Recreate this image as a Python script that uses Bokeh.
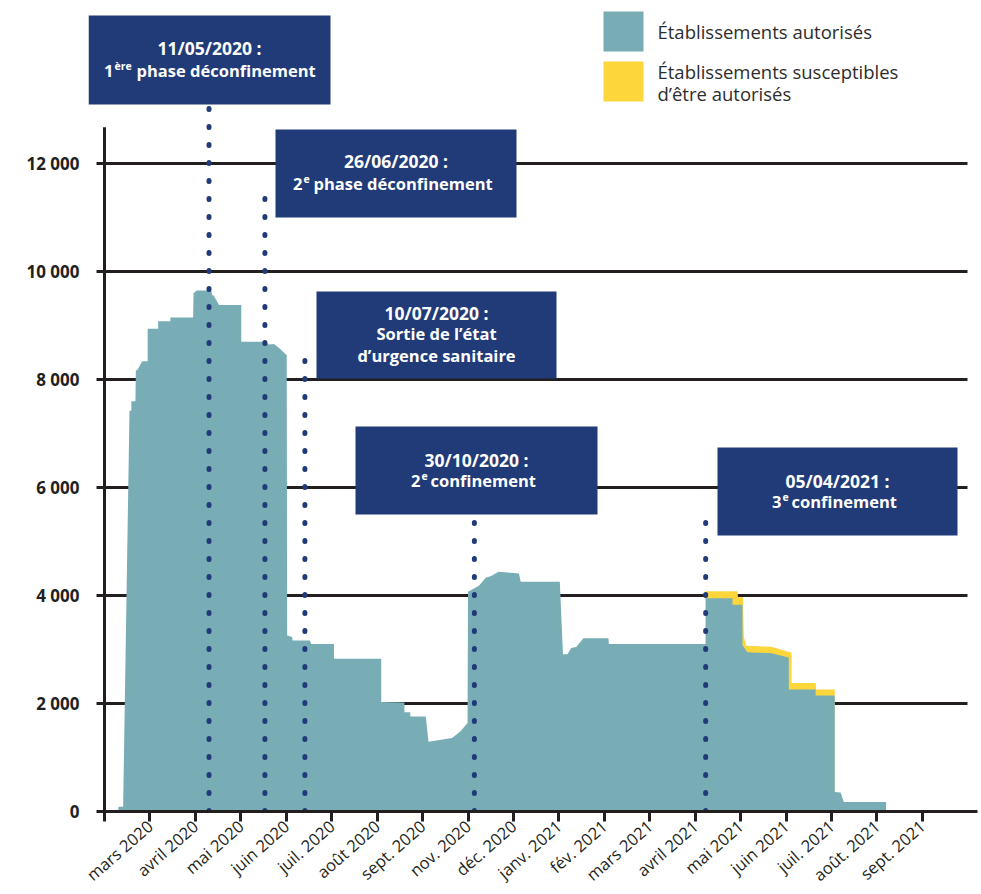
from bokeh.plotting import figure
from bokeh.models import Range1d, FixedTicker, BoxAnnotation, Label
from bokeh.embed import file_html
from bokeh.resources import INLINE

# ---------------- data ----------------
# x axis: month positions (0 = first tick, 1 = "mars 2020", ...)
month_labels = ["mars 2020", "avril 2020", "mai 2020", "juin 2020", "juil. 2020",
                "août 2020", "sept. 2020", "nov. 2020", "déc. 2020", "janv. 2021",
                "fév. 2021", "mars 2021", "avril 2021", "mai 2021", "juin 2021",
                "juil. 2021", "août. 2021", "sept. 2021"]
y_ticks = [0, 2000, 4000, 6000, 8000, 10000, 12000]

# Établissements autorisés (step-like area)
auth_x = [0.30, 0.31, 0.41, 0.55, 0.59, 0.59, 0.68, 0.69, 0.72, 0.83, 0.95, 0.95,
          1.18, 1.18, 1.45, 1.45, 1.95, 1.96, 2.03, 2.35, 2.37, 2.40, 2.52, 3.01,
          3.01, 3.55, 3.62, 3.73, 3.85, 4.01, 4.02, 4.13, 4.14, 4.52, 4.55, 5.05,
          5.05, 6.09, 6.09, 6.60, 6.60, 6.73, 6.73, 7.07, 7.13, 7.65, 7.83, 7.99,
          8.00, 8.24, 8.39, 8.51, 8.67, 9.12, 9.16, 10.02, 10.09, 10.19, 10.27,
          10.38, 10.54, 11.09, 11.10, 13.23, 13.23, 13.82, 13.82, 14.04, 14.04,
          14.15, 14.68, 15.06, 15.06, 15.65, 15.65, 16.07, 16.07, 16.20, 16.27,
          17.20, 17.20]
auth_y = [0, 90, 90, 7420, 7420, 7600, 7600, 8170, 8170, 8340, 8340, 8940,
          8940, 9080, 9080, 9150, 9150, 9600, 9650, 9650, 9560, 9560, 9380, 9380,
          8700, 8700, 8650, 8660, 8580, 8450, 3260, 3230, 3165, 3165, 3100, 3100,
          2830, 2830, 2030, 2020, 1840, 1840, 1760, 1760, 1290, 1360, 1480, 1640,
          4070, 4180, 4330, 4360, 4440, 4410, 4255, 4255, 2910, 2910, 3030,
          3045, 3210, 3210, 3100, 3100, 3950, 3950, 3830, 3830, 3080,
          2950, 2930, 2850, 2260, 2260, 2150, 2150, 360, 350, 175,
          175, 0]

# Autorisés + susceptibles d'être autorisés (total, stacked)
total_x = [13.23, 13.23, 13.93, 13.94, 14.05, 14.07, 14.12, 14.68, 15.12, 15.12,
           15.65, 15.66, 16.07, 16.07]
total_y = [0, 4080, 4080, 3970, 3970, 3240, 3070, 3050, 2940, 2380,
           2380, 2260, 2260, 0]

# events
event_x = [2.30, 3.53, 4.41, 8.14, 13.23]
event_dates = ["11/05/2020 :", "26/06/2020 :", "10/07/2020 :", "30/10/2020 :", "05/04/2021 :"]

# ---------------- style ----------------
TEAL = "#79adb6"
YELLOW = "#fdd63c"
NAVY = "#213b78"
INK = "#231f20"
FONT = "Open Sans"

X0, PXM = 104, 45.44          # pixel of month 0, pixels per month
Y0, UPP = 811, 18.52          # pixel of value 0, units per pixel


def X(px):
    return (px - X0) / PXM


def Y(py):
    return (Y0 - py) * UPP


p = figure(frame_width=889, frame_height=811, output_backend="svg", toolbar_location=None,
           x_range=Range1d(X(88), X(977)), y_range=Range1d(0, Y(0)),
           min_border_left=88, min_border_right=4, min_border_top=0,
           min_border_bottom=83)
p.outline_line_color = None
p.background_fill_color = "white"
p.border_fill_color = "white"

# grid
p.xgrid.visible = False
p.ygrid.ticker = FixedTicker(ticks=y_ticks[1:])
p.ygrid.grid_line_color = INK
p.ygrid.grid_line_width = 3
p.ygrid.cross_bounds = (X(96), X(967))

# x axis
p.xaxis.ticker = FixedTicker(ticks=list(range(len(month_labels) + 1)))
ov = {0: ""}
for i, lab in enumerate(month_labels):
    ov[i + 1] = lab
p.xaxis.major_label_overrides = ov
p.xaxis.bounds = (X(96), X(977))
p.xaxis.major_label_orientation = 0.72
p.xaxis.axis_line_color = INK
p.xaxis.axis_line_width = 3
p.xaxis.major_tick_line_color = INK
p.xaxis.major_tick_line_width = 3
p.xaxis.major_tick_out = 10
p.xaxis.major_tick_in = 0
p.xaxis.minor_tick_line_color = None
p.xaxis.major_label_text_font = FONT
p.xaxis.major_label_text_font_size = "16.5px"
p.xaxis.major_label_text_color = INK
p.xaxis.major_label_standoff = 2

# y axis: labels from Bokeh's axis, axis line drawn on the month-0 position
p.yaxis.ticker = FixedTicker(ticks=y_ticks)
p.yaxis.major_label_overrides = {v: f"{v:,}".replace(",", " ") for v in y_ticks}
p.yaxis.axis_line_color = None
p.yaxis.major_tick_line_color = None
p.yaxis.major_tick_out = 0
p.yaxis.major_tick_in = 0
p.yaxis.minor_tick_line_color = None
p.yaxis.major_label_text_font = FONT
p.yaxis.major_label_text_font_size = "17px"
p.yaxis.major_label_text_font_style = "bold"
p.yaxis.major_label_text_color = INK
p.yaxis.major_label_standoff = 9

p.segment(x0=[0], y0=[0], x1=[0], y1=[12670], line_color=INK, line_width=3)

# areas
p.varea(x=total_x, y1=0, y2=total_y, fill_color=YELLOW, fill_alpha=1)
p.varea(x=auth_x, y1=0, y2=auth_y, fill_color=TEAL, fill_alpha=1)

# event dotted lines
line_tops = [Y(105), Y(183), Y(358), Y(515), Y(520)]
p.segment(x0=event_x, y0=[0] * len(event_x), x1=event_x, y1=line_tops,
          line_color=NAVY, line_width=5, line_dash="1 17", line_cap="round")

# event boxes: (left, right, top, bottom) in reference pixels
boxes = [(88, 330, 15, 104), (275, 516, 129, 217), (316, 556, 291, 378),
         (355, 597, 426, 514), (717, 957, 447, 535)]
for (l, r, t, b) in boxes:
    p.add_layout(BoxAnnotation(left=X(l), right=X(r), top=Y(t), bottom=Y(b),
                               fill_color=NAVY, fill_alpha=1, line_color=None,
                               level="overlay"))


def txt(px, py, s, size="16.5px", align="center", color="white", style="bold"):
    p.add_layout(Label(x=X(px), y=Y(py), text=s, text_align=align,
                       text_baseline="middle", text_color=color, text_font=FONT,
                       text_font_size=size, text_font_style=style, level="overlay"))


# first lines (dates)
first_line_y = [47, 160, 312, 459, 480]
for (l, r, t, b), d, yy in zip(boxes, event_dates, first_line_y):
    txt((l + r) / 2, yy, d, size="17.5px")

# second lines with superscripts: (num, num right px, sup, sup left px, rest, rest left px, y px)
seconds = [("1", 113, "ère", 114, "phase déconfinement", 136, 70),
           ("2", 302, "e", 303, "phase déconfinement", 313, 183),
           ("2", 420, "e", 421, "confinement", 430, 480),
           ("3", 781, "e", 782, "confinement", 791, 501)]
for num, nr, sup, sl, rest, rl, yy in seconds:
    txt(nr, yy, num, align="right")
    txt(sl, yy - 5, sup, size="10.5px", align="left")
    txt(rl, yy, rest, align="left")

# third box extra lines
txt(436, 333, "Sortie de l’état")
txt(436, 355, "d’urgence sanitaire")

# legend
p.add_layout(BoxAnnotation(left=X(603), right=X(643), top=Y(11), bottom=Y(51),
                           fill_color=TEAL, fill_alpha=1, line_color=None, level="overlay"))
p.add_layout(BoxAnnotation(left=X(603), right=X(643), top=Y(61), bottom=Y(101),
                           fill_color=YELLOW, fill_alpha=1, line_color=None, level="overlay"))
LEG = dict(size="18.5px", align="left", color="#2d2d2d", style="normal")
txt(657, 31, "Établissements autorisés", **LEG)
txt(657, 71, "Établissements susceptibles", **LEG)
txt(657, 93, "d’être autorisés", **LEG)

open("out.html", "w").write(file_html(p, INLINE))
